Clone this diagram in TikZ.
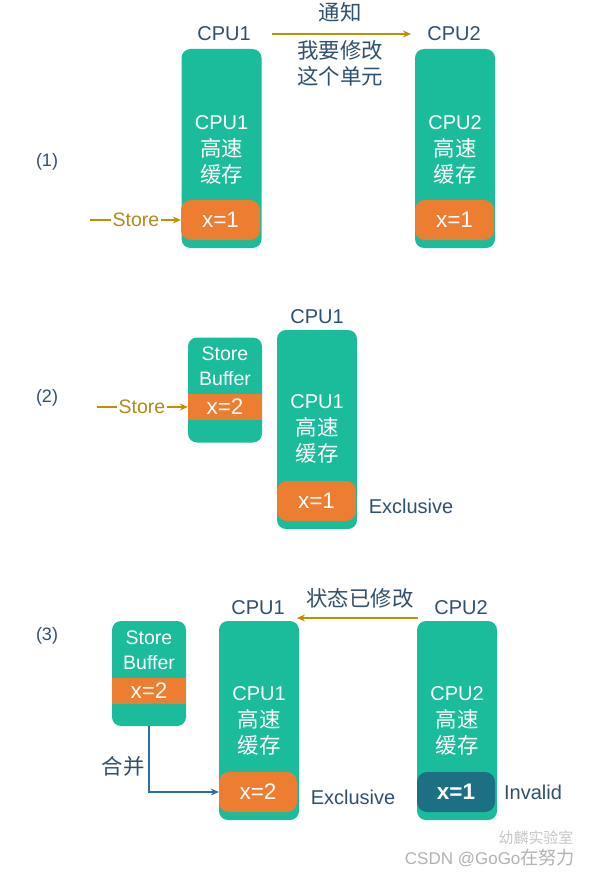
\documentclass[tikz,border=0pt]{standalone}
\usepackage{fontspec}
\setmainfont{Liberation Sans}
\newfontfamily\cjk{Noto Sans CJK SC}[Scale=1.07]
\usetikzlibrary{arrows.meta}
\definecolor{tealbox}{HTML}{1BBC9B}
\definecolor{orangebox}{HTML}{ED7D31}
\definecolor{darkbox}{HTML}{1D6F84}
\definecolor{labeltext}{HTML}{30506F}
\definecolor{goldline}{HTML}{BF9000}
\definecolor{storetext}{HTML}{B08A1A}
\definecolor{bluelink}{HTML}{2E6DA4}
\begin{document}
\begin{tikzpicture}[x=1pt,y=-1pt,
  cpubox/.style={fill=tealbox,draw=none,rounded corners=9pt,minimum width=80pt,minimum height=199pt,inner sep=0pt},
  bufbox/.style={fill=tealbox,draw=none,rounded corners=9pt,minimum width=74pt,minimum height=105pt,inner sep=0pt},
  valbox/.style={fill=orangebox,draw=none,rounded corners=10pt,minimum width=79pt,minimum height=40pt,inner sep=0pt,text=white,font=\fontsize{22.5}{24}\selectfont},
  invbox/.style={valbox,fill=darkbox,font=\fontsize{22.5}{24}\selectfont\bfseries},
  bandbox/.style={fill=orangebox,draw=none,minimum width=74pt,minimum height=26pt,inner sep=0pt,text=white,font=\fontsize{22.5}{24}\selectfont},
  intext/.style={text=white,align=center,inner sep=0pt,font=\fontsize{20}{26.5}\selectfont},
  cpulabel/.style={text=labeltext,inner sep=0pt,font=\fontsize{20}{24}\selectfont},
  note/.style={text=labeltext,inner sep=0pt,align=center,font=\fontsize{20}{26}\selectfont},
  storelabel/.style={text=storetext,inner sep=1pt,font=\fontsize{19.5}{22}\selectfont},
  goldarrow/.style={draw=goldline,line width=1.6pt,-{Stealth[length=8pt,width=7pt]}},
  goldplain/.style={draw=goldline,line width=1.6pt},
  bluearrow/.style={draw=bluelink,line width=1.4pt,-{Stealth[length=8pt,width=7pt]}},
  steplabel/.style={text=labeltext,inner sep=0pt,font=\fontsize{18}{20}\selectfont}
]
\useasboundingbox (0,0) rectangle (596,875);
\fill[white] (0,0) rectangle (596,875);

% ---------- Panel 1 ----------
\node[steplabel] (p1) at (47,162) {(1)};
\node[cpubox] (c1) at (221.5,148.5) {};
\node[valbox] (o1) at (220.5,220) {x=1};
\node[intext] (t1) at (221.5,150) {CPU1\\{\cjk 高速}\\{\cjk 缓存}};
\node[cpulabel] (l1) at (224,34) {CPU1};
\node[cpubox] (c2) at (455,148.5) {};
\node[valbox] (o2) at (454.5,220) {x=1};
\node[intext] (t2) at (455,150) {CPU2\\{\cjk 高速}\\{\cjk 缓存}};
\node[cpulabel] (l2) at (454,34) {CPU2};
\coordinate (n1s) at (272,34);
\coordinate (n1e) at (411,34);
\draw[goldarrow] (n1s) -- (n1e);
\node[note] (n1a) at (340,12) {\cjk 通知};
\node[note] (n1b) at (340,63) {\cjk 我要修改\\\cjk 这个单元};
\coordinate (s1) at (90,220);
\node[storelabel] (st1) at (136,220) {Store};
\draw[goldplain] (s1) -- (st1.west);
\draw[goldarrow] (st1.east) -- (o1.west);

% ---------- Panel 2 ----------
\node[steplabel] (p2) at (47,398) {(2)};
\node[bufbox] (b2) at (225,390) {};
\node[bandbox] (ob2) at (225,407) {x=2};
\node[intext,font=\fontsize{19.5}{25}\selectfont] (bt2) at (225,366.5) {Store\\Buffer};
\coordinate (s2) at (97,407);
\node[storelabel] (st2) at (142,407) {Store};
\draw[goldplain] (s2) -- (st2.west);
\draw[goldarrow] (st2.east) -- (ob2.west);
\node[cpubox] (c3) at (317,429.5) {};
\node[valbox] (o3) at (316.5,501) {x=1};
\node[intext] (t3) at (317,429) {CPU1\\{\cjk 高速}\\{\cjk 缓存}};
\node[cpulabel] (l3) at (317,317) {CPU1};
\node[cpulabel] (e3) at (411,506) {Exclusive};

% ---------- Panel 3 ----------
\node[steplabel] (p3) at (47,636) {(3)};
\node[bufbox] (b4) at (149,673.5) {};
\node[bandbox] (ob4) at (149,691) {x=2};
\node[intext,font=\fontsize{19.5}{25}\selectfont] (bt4) at (149,650.5) {Store\\Buffer};
\node[cpubox] (c5) at (259,720.5) {};
\node[valbox,minimum width=78pt] (o5) at (258,792) {x=2};
\node[intext] (t5) at (259,721) {CPU1\\{\cjk 高速}\\{\cjk 缓存}};
\node[cpulabel] (l5) at (258,608) {CPU1};
\node[cpulabel] (e5) at (353,797) {Exclusive};
\node[cpubox] (c6) at (457,720.5) {};
\node[invbox,minimum width=78pt] (o6) at (456,792) {x=1};
\node[intext] (t6) at (457,721) {CPU2\\{\cjk 高速}\\{\cjk 缓存}};
\node[cpulabel] (l6) at (461,608) {CPU2};
\node[cpulabel] (i6) at (533,792) {Invalid};
\coordinate (n3s) at (418,618);
\coordinate (n3e) at (297,618);
\draw[goldarrow] (n3s) -- (n3e);
\node[note] (n3a) at (360,598) {\cjk 状态已修改};
\draw[bluearrow] (b4.south) |- (o5.west);
\node[note] (m4) at (123,766) {\cjk 合并};

% ---------- watermark ----------
\node[text=black!22,inner sep=0pt,font=\fontsize{14}{16}\selectfont] (wm2) at (536,838) {\cjk 幼麟实验室};
\node[text=black!30,inner sep=0pt,font=\fontsize{17}{19}\selectfont] (wm1) at (490,858) {CSDN @GoGo{\cjk 在努力}};
\end{tikzpicture}
\end{document}
